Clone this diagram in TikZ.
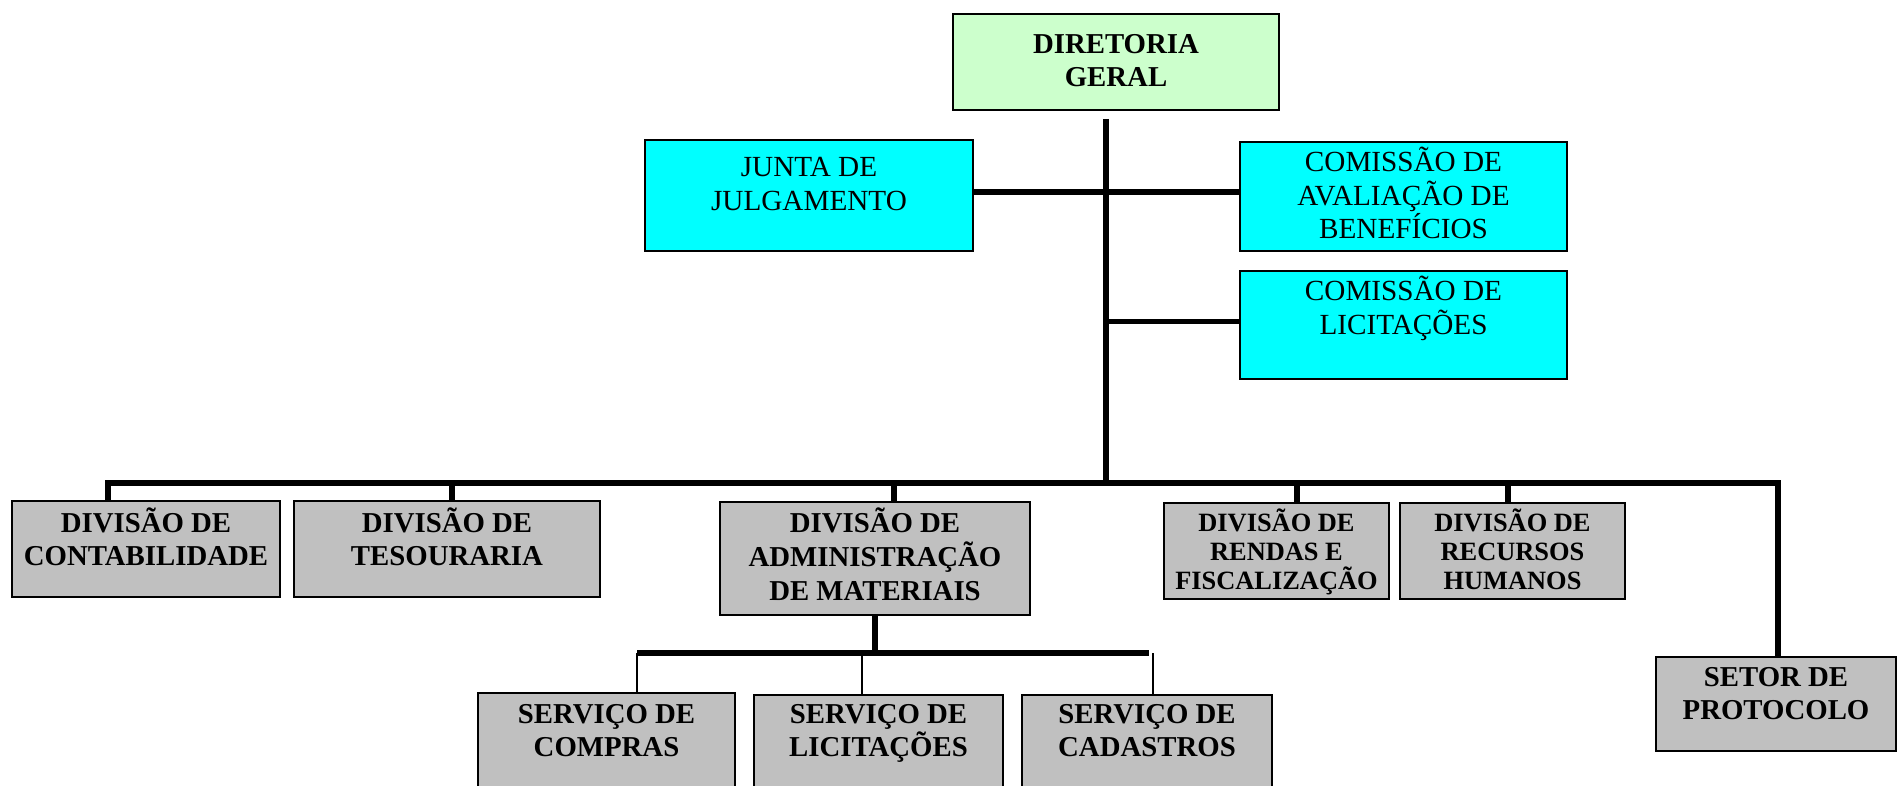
\documentclass[tikz,border=0pt]{standalone}
\usepackage{fontspec}
\setmainfont{Liberation Serif}
\definecolor{dirgreen}{HTML}{CCFFCC}
\definecolor{comcyan}{HTML}{00FFFF}
\definecolor{divgray}{HTML}{C0C0C0}
% text of a box: width, height, first baseline, lines
\newcommand{\unittext}[4]{\parbox[c][#2][t]{#1}{\centering\rule{0pt}{#3}#4}}

\begin{document}
\begin{tikzpicture}[x=0.5pt, y=-0.5pt,
    unit/.style={draw, line width=1pt, anchor=north west, inner sep=0pt},
    boldunit/.style={unit, font=\bfseries\fontsize{14.4}{16.5}\selectfont},
    smallunit/.style={unit, font=\bfseries\fontsize{13.2}{14.5}\selectfont},
    plainunit/.style={unit, fill=comcyan, font=\fontsize{14.6}{16.7}\selectfont},
    trunk/.style={line width=2.6pt},
    thinline/.style={line width=0.6pt}]
  \useasboundingbox (0,0) rectangle (1897,786);

  % direction and councils
  \node[boldunit, fill=dirgreen] (dg) at (952,13) {\unittext{163pt}{48pt}{20pt}{DIRETORIA\\GERAL}};
  \node[plainunit] (jj) at (644,139) {\unittext{164pt}{55.5pt}{18.5pt}{JUNTA DE\\JULGAMENTO}};
  \node[plainunit] (cab) at (1239,141) {\unittext{163.5pt}{54.5pt}{15pt}{COMISSÃO DE\\AVALIAÇÃO DE\\BENEFÍCIOS}};
  \node[plainunit] (clic) at (1239,270) {\unittext{163.5pt}{54pt}{15pt}{COMISSÃO DE\\LICITAÇÕES}};

  % divisions
  \node[boldunit, fill=divgray] (cont) at (11,500) {\unittext{134pt}{48pt}{15.5pt}{DIVISÃO DE\\CONTABILIDADE}};
  \node[boldunit, fill=divgray] (tes) at (293,500) {\unittext{153pt}{48pt}{15.5pt}{DIVISÃO DE\\TESOURARIA}};
  \node[boldunit, fill=divgray, font=\bfseries\fontsize{14.4}{17}\selectfont] (adm) at (719,501) {\unittext{155pt}{56.5pt}{15pt}{DIVISÃO DE\\ADMINISTRAÇÃO\\DE MATERIAIS}};
  \node[smallunit, fill=divgray] (ren) at (1163,502) {\unittext{112.5pt}{48pt}{14pt}{DIVISÃO DE\\RENDAS E\\FISCALIZAÇÃO}};
  \node[smallunit, fill=divgray] (rh) at (1399,502) {\unittext{112.5pt}{48pt}{14pt}{DIVISÃO DE\\RECURSOS\\HUMANOS}};
  \node[boldunit, fill=divgray] (prot) at (1655,656) {\unittext{120pt}{47pt}{14.5pt}{SETOR DE\\PROTOCOLO}};

  % services
  \node[boldunit, fill=divgray] (sc) at (477,692) {\unittext{128.5pt}{56pt}{15pt}{SERVIÇO DE\\COMPRAS}};
  \node[boldunit, fill=divgray] (sl) at (753,694) {\unittext{124.5pt}{56pt}{14pt}{SERVIÇO DE\\LICITAÇÕES}};
  \node[boldunit, fill=divgray] (scad) at (1021,694) {\unittext{125pt}{56pt}{14pt}{SERVIÇO DE\\CADASTROS}};

  % connectors
  \coordinate (hub) at (1106,483);
  \coordinate (bl) at (108,483);
  \coordinate (br) at (1778,483);
  \draw[trunk] ([yshift=-4pt]dg.south -| hub) -- (hub);
  \draw[trunk] ([yshift=1.75pt]jj.east) -- ([yshift=1.75pt]jj.east -| cab.west);
  \draw[trunk] ([yshift=1.75pt]clic.west -| hub) -- ([yshift=1.75pt]clic.west);
  \draw[trunk] (bl |- cont.north) -- (bl) -- (br) -- (br |- prot.north);
  \foreach \n/\x in {tes/452, adm/894, ren/1297, rh/1508} {
    \coordinate (d\n) at (\x,483);
    \draw[trunk] (d\n) -- (d\n |- \n.north);
  }
  \coordinate (sb) at (875,653);
  \coordinate (sbl) at (637,653);
  \coordinate (sbr) at (1149,653);
  \draw[trunk] (adm.south -| sb) -- (sb);
  \draw[trunk] (sbl) -- (sbr);
  \foreach \n/\x in {sc/637, sl/862, scad/1153} {
    \coordinate (e\n) at (\x,653);
    \draw[thinline] (e\n) -- (e\n |- \n.north);
  }
\end{tikzpicture}
\end{document}
